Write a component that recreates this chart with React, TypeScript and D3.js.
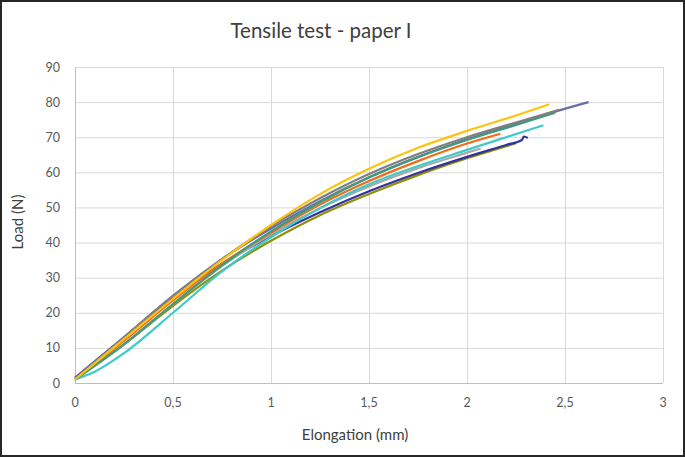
import React, { useEffect, useRef } from 'react';
import * as d3 from 'd3';

// elongation (mm) / load (N) readings per specimen
const yellowSpec: [number, number][] = [[0, 1], [0.25, 12.5], [0.5, 24], [0.75, 35], [1, 45], [1.25, 53.8], [1.5, 61], [1.75, 67], [2, 71.8], [2.25, 76.2], [2.42, 79.4]];
const graySpec: [number, number][] = [[0, 1], [0.25, 13], [0.5, 24.8], [0.75, 35.3], [1, 44.6], [1.25, 52.6], [1.5, 59.5], [1.75, 65.2], [2, 70], [2.25, 74.2], [2.47, 77.8]];
const greenSpec: [number, number][] = [[0, 1], [0.25, 11], [0.5, 22.5], [0.75, 33.5], [1, 43.2], [1.25, 51.5], [1.5, 58.5], [1.75, 64.3], [2, 69.2], [2.25, 73.5], [2.45, 77]];
const purpleSpec: [number, number][] = [[0, 1.5], [0.25, 13], [0.5, 24.8], [0.75, 35.3], [1, 44], [1.25, 51.8], [1.5, 58.6], [1.75, 64.4], [2, 69.4], [2.25, 73.8], [2.45, 77.3], [2.62, 80]];
const orangeSpec: [number, number][] = [[0, 1], [0.25, 12], [0.5, 23.5], [0.75, 34], [1, 42.8], [1.25, 50.8], [1.5, 57.5], [1.75, 63.2], [2, 68.2], [2.17, 71]];
const cyanSpec: [number, number][] = [[0, 1], [0.1, 3.2], [0.25, 8.5], [0.5, 20], [0.75, 31.8], [1, 41.5], [1.25, 49.8], [1.5, 56.6], [1.75, 61.8], [2, 66.4], [2.2, 70], [2.39, 73.4]];
const lightGraySpec: [number, number][] = [[0, 1], [0.25, 11], [0.5, 22.5], [0.75, 33.3], [1, 42.3], [1.25, 49.8], [1.5, 56], [1.75, 61.2], [2, 65.6], [2.07, 66.8]];
const navySpec: [number, number][] = [[0, 1.5], [0.25, 13], [0.5, 24.5], [0.75, 34], [1, 41.8], [1.25, 48.6], [1.5, 54.6], [1.75, 59.8], [2, 64.4], [2.2, 67.8], [2.28, 69.2], [2.29, 70.2], [2.31, 69.8]];
const oliveSpec: [number, number][] = [[0, 1], [0.25, 11], [0.5, 22], [0.75, 32], [1, 40.5], [1.25, 47.8], [1.5, 53.8], [1.75, 59.2], [2, 64], [2.25, 68.3]];

// bottom to top drawing order
const specimens = [oliveSpec, navySpec, lightGraySpec, cyanSpec, orangeSpec, purpleSpec, greenSpec, graySpec, yellowSpec];
const specimenColors = ['#8f8f0a', '#31339a', '#a9a9a9', '#3fcaca', '#f26b1d', '#6c6ca8', '#3f9c78', '#7f7f7f', '#ffc20e'];

const xTicks = [0, 0.5, 1, 1.5, 2, 2.5, 3];
const yTicks = [0, 10, 20, 30, 40, 50, 60, 70, 80, 90];

const W = 685;
const H = 457;
const FONT = 'Lato, "Open Sans", sans-serif';

const App = () => {
    const svgRef = useRef<SVGSVGElement>(null);

    useEffect(() => {
        document.body.style.margin = '0';
        const svg = d3.select(svgRef.current);
        svg.selectAll('*').remove();

        const margin = { top: 67, right: 22, bottom: 74, left: 75 };
        const x = d3.scaleLinear().domain([0, 3]).range([margin.left, W - margin.right]);
        const y = d3.scaleLinear().domain([0, 90]).range([H - margin.bottom, margin.top]);

        svg.append('rect').attr('x', 1).attr('y', 1).attr('width', W - 2).attr('height', H - 2)
            .attr('fill', '#fff').attr('stroke', '#262626').attr('stroke-width', 2);

        // grid
        svg.append('g').selectAll('line').data(yTicks.slice(1)).enter().append('line')
            .attr('x1', x(0)).attr('x2', x(3))
            .attr('y1', d => y(d) + 0.5).attr('y2', d => y(d) + 0.5)
            .attr('stroke', '#d9d9d9');
        svg.append('g').selectAll('line').data(xTicks.slice(1)).enter().append('line')
            .attr('y1', y(0)).attr('y2', y(90))
            .attr('x1', d => x(d) + 0.5).attr('x2', d => x(d) + 0.5)
            .attr('stroke', '#d9d9d9');

        // axes lines
        svg.append('line').attr('x1', x(0)).attr('x2', x(3)).attr('y1', y(0) + 0.5).attr('y2', y(0) + 0.5).attr('stroke', '#bfbfbf');
        svg.append('line').attr('x1', x(0) + 0.5).attr('x2', x(0) + 0.5).attr('y1', y(0)).attr('y2', y(90)).attr('stroke', '#bfbfbf');

        // tick labels
        svg.append('g').selectAll('text').data(yTicks).enter().append('text')
            .attr('x', x(0) - 15).attr('y', d => y(d) + 4.5)
            .attr('text-anchor', 'end').attr('font-family', FONT).attr('font-size', 12.5).attr('fill', '#595959')
            .text(d => String(d));
        svg.append('g').selectAll('text').data(xTicks).enter().append('text')
            .attr('x', d => x(d)).attr('y', y(0) + 24)
            .attr('text-anchor', 'middle').attr('font-family', FONT).attr('font-size', 12.5).attr('fill', '#595959')
            .text(d => String(d).replace('.', ','));

        const line = d3.line<[number, number]>()
            .x(d => x(d[0]))
            .y(d => y(d[1]))
            .curve(d3.curveMonotoneX);

        svg.append('g').selectAll('path').data(specimens).enter().append('path')
            .attr('d', d => line(d))
            .attr('fill', 'none')
            .attr('stroke', (d, i) => specimenColors[i])
            .attr('stroke-width', 2.2)
            .attr('stroke-linejoin', 'round');

        svg.append('text').attr('x', 321).attr('y', 38).attr('text-anchor', 'middle')
            .attr('font-family', FONT).attr('font-size', 20.5).attr('fill', '#404040')
            .text('Tensile test - paper I');

        svg.append('text').attr('x', 355).attr('y', 440).attr('text-anchor', 'middle')
            .attr('font-family', FONT).attr('font-size', 15).attr('fill', '#404040')
            .text('Elongation (mm)');

        svg.append('text').attr('transform', `translate(23,222) rotate(-90)`)
            .attr('text-anchor', 'middle')
            .attr('font-family', FONT).attr('font-size', 15).attr('fill', '#404040')
            .text('Load (N)');
    }, []);

    return <svg ref={svgRef} width={W} height={H} style={{ display: 'block' }}></svg>;
};

export default App;
